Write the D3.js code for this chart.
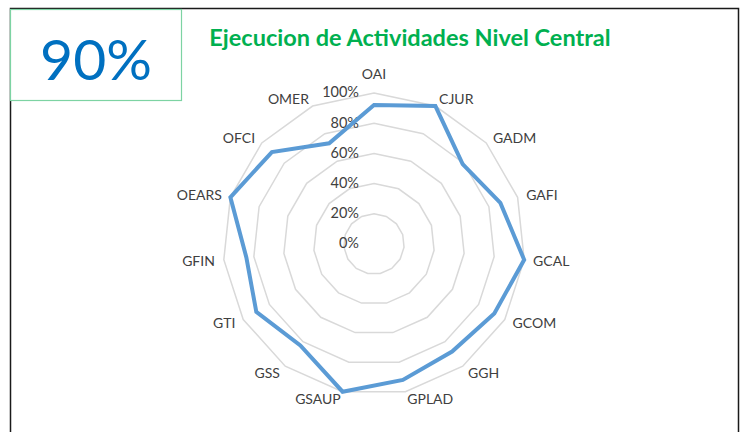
<!DOCTYPE html>
<html>
<head>
<meta charset="utf-8">
<script src="https://cdn.jsdelivr.net/npm/d3@7"></script>
<style>
  body { margin: 0; background: #fff; }
  svg { display: block; font-family: Lato, "Open Sans", sans-serif; }
</style>
</head>
<body>
<div id="chart"></div>
<script>
const categories = ["OAI", "CJUR", "GADM", "GAFI", "GCAL", "GCOM", "GGH", "GPLAD",
  "GSAUP", "GSS", "GTI", "GFIN", "OEARS", "OFCI", "OMER"];
const values = [0.92, 1.0, 0.79, 0.88, 1.0, 0.92, 0.88, 0.92, 1.0, 0.83, 0.90, 0.85, 1.0, 0.91, 0.73];
const ticks = [0, 0.2, 0.4, 0.6, 0.8, 1.0];
const titleText = "Ejecucion de Actividades Nivel Central";
const kpiText = "90%";

const width = 745, height = 432;
const cx = 374, cy = 244, radius = 151;

const svg = d3.select("#chart").append("svg")
  .attr("width", width)
  .attr("height", height);

// outer frame (top, left, right)
svg.append("path")
  .attr("d", `M10.5,${height} V8.5 H738.5 V${height}`)
  .attr("fill", "none")
  .attr("stroke", "#1a1a1a")
  .attr("stroke-width", 1.5);

// KPI box
svg.append("rect")
  .attr("x", 10.5).attr("y", 9.5)
  .attr("width", 171).attr("height", 91)
  .attr("fill", "#fff")
  .attr("stroke", "#7dd3a3")
  .attr("stroke-width", 1.2);

svg.append("text")
  .attr("x", 96).attr("y", 80)
  .attr("text-anchor", "middle")
  .attr("font-size", 57)
  .attr("fill", "#0070c0")
  .text(kpiText);

svg.append("text")
  .attr("x", 410).attr("y", 46)
  .attr("text-anchor", "middle")
  .attr("font-size", 23.5)
  .attr("font-weight", "bold")
  .attr("fill", "#00b050")
  .text(titleText);

const angle = d3.scalePoint()
  .domain(categories)
  .range([0, 2 * Math.PI * (categories.length - 1) / categories.length]);

const r = d3.scaleLinear().domain([0, 1]).range([0, radius]);

const g = svg.append("g").attr("transform", `translate(${cx},${cy})`);

const pt = (cat, v) => {
  const a = angle(cat);
  return [r(v) * Math.sin(a), -r(v) * Math.cos(a)];
};

// grid rings
ticks.filter(t => t > 0).forEach(t => {
  g.append("path")
    .attr("d", d3.line().curve(d3.curveLinearClosed)(categories.map(c => pt(c, t))))
    .attr("fill", "none")
    .attr("stroke", "#d9d9d9")
    .attr("stroke-width", 1.5);
});

// tick labels
g.selectAll(".tick-label")
  .data(ticks)
  .enter()
  .append("text")
  .attr("class", "tick-label")
  .attr("x", -15)
  .attr("y", d => -r(d))
  .attr("dy", "0.3em")
  .attr("text-anchor", "end")
  .attr("font-size", 14.5)
  .attr("fill", "#404040")
  .text(d3.format(".0%"));

// data line
g.append("path")
  .attr("d", d3.line().curve(d3.curveLinearClosed)(categories.map((c, i) => pt(c, values[i]))))
  .attr("fill", "none")
  .attr("stroke", "#5b9bd5")
  .attr("stroke-width", 4)
  .attr("stroke-linejoin", "miter");

// category labels
g.selectAll(".cat-label")
  .data(categories)
  .enter()
  .append("text")
  .attr("class", "cat-label")
  .attr("x", d => 160 * Math.sin(angle(d)))
  .attr("y", d => {
    const a = angle(d);
    const extra = Math.abs(Math.sin(a)) < 0.1 ? 11 * Math.cos(a) : 0;
    return -159 * Math.cos(a) - extra;
  })
  .attr("dy", "0.35em")
  .attr("text-anchor", d => {
    const s = Math.sin(angle(d));
    return Math.abs(s) < 0.1 ? "middle" : s > 0 ? "start" : "end";
  })
  .attr("font-size", 14)
  .attr("fill", "#404040")
  .text(d => d);
</script>
</body>
</html>
